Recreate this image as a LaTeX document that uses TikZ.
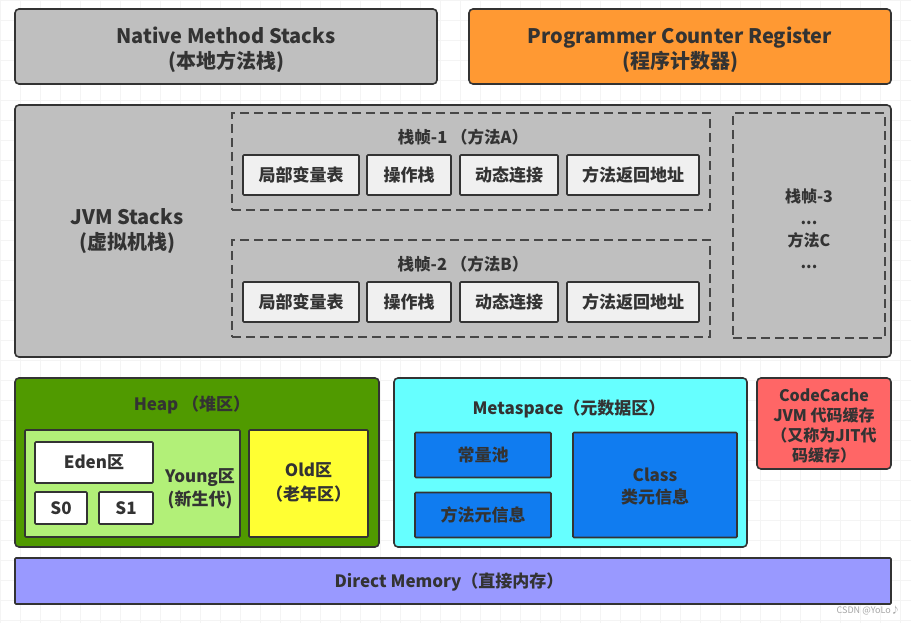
\documentclass[tikz,border=0pt]{standalone}
\usepackage{fontspec}
\setmainfont{Noto Sans CJK SC}
\definecolor{edge}{RGB}{51,51,51}
\definecolor{txt}{RGB}{51,51,51}
\definecolor{grayfill}{RGB}{191,191,191}
\definecolor{orangefill}{RGB}{255,153,51}
\definecolor{cellfill}{RGB}{240,240,240}
\definecolor{heapfill}{RGB}{80,154,0}
\definecolor{youngfill}{RGB}{178,240,120}
\definecolor{oldfill}{RGB}{255,255,51}
\definecolor{metafill}{RGB}{102,255,255}
\definecolor{bluefill}{RGB}{16,124,240}
\definecolor{redfill}{RGB}{255,102,102}
\definecolor{dmfill}{RGB}{153,153,255}
\definecolor{gridline}{RGB}{244,244,244}
\tikzset{
  box/.style={draw=edge, line width=1.6pt, rounded corners=4pt, text=txt, align=center, inner sep=0pt,
    font=\bfseries\fontsize{16}{20}\selectfont},
  bigtxt/.style={font=\bfseries\fontsize{20}{25}\selectfont},
  celltxt/.style={font=\bfseries\fontsize{17}{20}\selectfont},
  cell/.style={box, celltxt, fill=cellfill, rounded corners=1pt, minimum height=40pt},
  frame/.style={draw=edge!90, line width=2pt, dash pattern=on 9pt off 5pt},
  label/.style={text=txt, align=center, inner sep=0pt, font=\bfseries\fontsize{16}{20}\selectfont},
}
\begin{document}
\begin{tikzpicture}[x=1pt,y=-1pt]
\useasboundingbox (0,0) rectangle (911,623);
\fill[white] (0,0) rectangle (911,623);
\draw[gridline, line width=0.6pt, step=20pt] (0,0) grid (911,623);

% top row
\node[box, fill=grayfill, minimum width=422pt, minimum height=75pt] (nms) at (226,46.5) {};
\node[label, bigtxt] (nmst) at (226,49.5) {Native Method Stacks\\(本地方法栈)};
\node[box, fill=orangefill, minimum width=422pt, minimum height=75pt] (pcr) at (680,46.5) {};
\node[label, bigtxt] (pcrt) at (680,49.5) {Programmer Counter Register\\(程序计数器)};

% JVM stacks
\node[box, fill=grayfill, minimum width=876pt, minimum height=252pt] (jvm) at (453,231) {};
\node[label, bigtxt] (jvmlbl) at (127,231) {JVM Stacks\\(虚拟机栈)};

% frame 1
\node[frame, minimum width=478pt, minimum height=97pt, inner sep=0pt] (f1) at (471,161.5) {};
\node[label, font=\bfseries\fontsize{16.5}{20}\selectfont] (f1t) at (463,137) {栈帧-1 （方法A）};
\node[cell, minimum width=116pt] (f1a) at (301,175) {局部变量表};
\node[cell, minimum width=84pt] (f1b) at (409,175) {操作栈};
\node[cell, minimum width=98pt] (f1c) at (509,175) {动态连接};
\node[cell, minimum width=132pt] (f1d) at (633,175) {方法返回地址};

% frame 2
\node[frame, minimum width=478pt, minimum height=97pt, inner sep=0pt] (f2) at (471,288.5) {};
\node[label, font=\bfseries\fontsize{16.5}{20}\selectfont] (f2t) at (463,264) {栈帧-2 （方法B）};
\node[cell, minimum width=116pt] (f2a) at (301,302) {局部变量表};
\node[cell, minimum width=84pt] (f2b) at (409,302) {操作栈};
\node[cell, minimum width=98pt] (f2c) at (509,302) {动态连接};
\node[cell, minimum width=132pt] (f2d) at (633,302) {方法返回地址};

% frame 3
\node[frame, minimum width=152pt, minimum height=225pt, inner sep=0pt] (f3) at (809,225.5) {};
\node[label, font=\bfseries\fontsize{16}{22}\selectfont] (f3t) at (809,229) {栈帧-3\\...\\方法C\\...};

% heap
\node[box, fill=heapfill, minimum width=364pt, minimum height=169pt] (heap) at (197,462.5) {};
\node[label, font=\bfseries\fontsize{17}{20}\selectfont] (heapt) at (192,405) {Heap （堆区）};
\node[box, fill=youngfill, rounded corners=1pt, minimum width=215pt, minimum height=107pt] (young) at (132.5,483.5) {};
\node[label, font=\bfseries\fontsize{17}{23}\selectfont] (youngt) at (200,489) {Young区\\(新生代)};
\node[box, celltxt, fill=white, rounded corners=1pt, minimum width=118pt, minimum height=41pt] (eden) at (94,462.5) {Eden区};
\node[box, celltxt, fill=white, rounded corners=1pt, minimum width=52pt, minimum height=32pt] (s0) at (61,508) {S0};
\node[box, celltxt, fill=white, rounded corners=1pt, minimum width=54pt, minimum height=32pt] (s1) at (126,508) {S1};
\node[box, fill=oldfill, rounded corners=1pt, minimum width=119pt, minimum height=107pt] (old) at (308.5,483.5) {};
\node[label, font=\bfseries\fontsize{17}{24}\selectfont] (oldt) at (308.5,482) {Old区\\（老年区）};

% metaspace
\node[box, fill=metafill, minimum width=353pt, minimum height=169pt] (meta) at (570.5,462.5) {};
\node[label, font=\bfseries\fontsize{17}{20}\selectfont] (metat) at (569,409) {Metaspace（元数据区）};
\node[box, celltxt, fill=bluefill, rounded corners=1pt, minimum width=136pt, minimum height=45pt] (cpool) at (483,455) {常量池};
\node[box, celltxt, fill=bluefill, rounded corners=1pt, minimum width=136pt, minimum height=45pt] (minfo) at (483,515) {方法元信息};
\node[box, fill=bluefill, rounded corners=1pt, minimum width=164pt, minimum height=105pt] (cls) at (655,485) {};
\node[label, font=\bfseries\fontsize{17}{22}\selectfont] (clst) at (655,487) {Class\\类元信息};

% code cache
\node[box, fill=redfill, minimum width=134pt, minimum height=91pt] (cc) at (824,423.5) {};
\node[label] (cct) at (824,426) {CodeCache\\JVM 代码缓存\\（又称为JIT代\\码缓存）};

% direct memory
\node[box, fill=dmfill, rounded corners=1pt, minimum width=876pt, minimum height=46pt] (dm) at (453,581) {};
\node[label, font=\bfseries\fontsize{17}{20}\selectfont] (dmt) at (449,582) {Direct Memory（直接内存）};

% watermark
\node[anchor=east, inner sep=0pt, text=gray!70, font=\fontsize{9}{10}\selectfont] (wm) at (900,610) {CSDN @YoLo♪};
\end{tikzpicture}
\end{document}
